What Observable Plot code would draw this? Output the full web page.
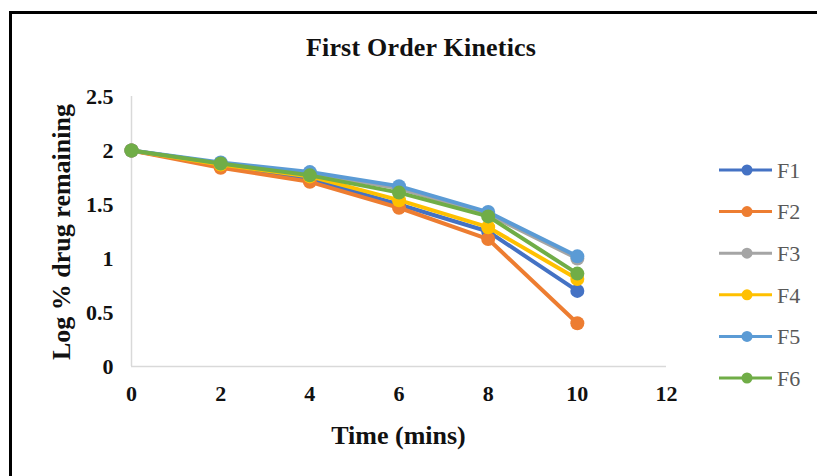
<!DOCTYPE html>
<html>
<head>
<meta charset="utf-8">
<script src="https://cdn.jsdelivr.net/npm/d3@7"></script>
<script src="https://cdn.jsdelivr.net/npm/@observablehq/plot@0.6"></script>
<style>
  html, body { margin: 0; padding: 0; background: #fff; }
  #wrap { position: relative; width: 817px; height: 476px; overflow: hidden; background: #fff;
          font-family: "Liberation Serif", "Times New Roman", serif; color: #111; }
  #frame { position: absolute; left: 9px; top: 11px; width: 900px; height: 600px;
           border-left: 3px solid #000; border-top: 3px solid #000; box-sizing: border-box; }
  #title { position: absolute; left: 131px; width: 580px; top: 33px; text-align: center;
           font-weight: bold; font-size: 26px; letter-spacing: 0.2px; }
  #xlabel { position: absolute; left: 131px; width: 535px; top: 421px; text-align: center;
            font-weight: bold; font-size: 26px; }
  #ylabel { position: absolute; left: 62px; top: 232px; transform: translate(-50%, -50%) rotate(-90deg);
            white-space: nowrap; font-weight: bold; font-size: 26px; }
  #chart { position: absolute; left: 0; top: 0; }
  #legend { position: absolute; left: 715px; top: 0; }
</style>
</head>
<body>
<div id="wrap">
  <div id="frame"></div>
  <div id="chart"></div>
  <div id="title">First Order Kinetics</div>
  <div id="xlabel">Time (mins)</div>
  <div id="ylabel">Log % drug remaining</div>
  <svg id="legend" width="102" height="476"></svg>
</div>
<script>
// Sampling times (minutes)
const times = [0, 2, 4, 6, 8, 10];

// Log % drug remaining for each formulation
const F1 = [2.00, 1.86, 1.74, 1.50, 1.25, 0.70];
const F2 = [2.00, 1.84, 1.71, 1.47, 1.18, 0.40];
const F3 = [2.00, 1.88, 1.79, 1.65, 1.41, 1.00];
const F4 = [2.00, 1.87, 1.76, 1.54, 1.29, 0.81];
const F5 = [2.00, 1.89, 1.80, 1.67, 1.43, 1.02];
const F6 = [2.00, 1.88, 1.77, 1.61, 1.39, 0.86];

const seriesNames = ["F1", "F2", "F3", "F4", "F5", "F6"];
const seriesValues = [F1, F2, F3, F4, F5, F6];
const seriesColors = ["#4472C4", "#ED7D31", "#A5A5A5", "#FFC000", "#5B9BD5", "#70AD47"];

const xTicks = [0, 2, 4, 6, 8, 10, 12];
const yTicks = [0, 0.5, 1, 1.5, 2, 2.5];

// Long-format table for Plot
const rows = seriesNames.flatMap((name, i) =>
  times.map((t, j) => ({series: name, time: t, value: seriesValues[i][j]}))
);

const tickFont = {fontSize: "22px", fontWeight: "bold", fill: "#111"};

const marks = [
  Plot.ruleY([0], {stroke: "#d9d9d9", strokeWidth: 1.5}),
  Plot.ruleX([0], {stroke: "#d9d9d9", strokeWidth: 1.5}),
  Plot.axisX({ticks: xTicks, tickSize: 0, tickPadding: 19, tickFormat: d => String(d),
              label: null, ...tickFont}),
  Plot.axisY({ticks: yTicks, tickSize: 0, tickPadding: 18, tickFormat: d => String(d),
              label: null, ...tickFont})
];

// One line + dot layer per formulation, drawn in series order
seriesNames.forEach((name, i) => {
  const data = rows.filter(r => r.series === name);
  marks.push(Plot.line(data, {x: "time", y: "value", stroke: seriesColors[i], strokeWidth: 4}));
  marks.push(Plot.dot(data, {x: "time", y: "value", fill: seriesColors[i], r: 7}));
});

const chart = Plot.plot({
  width: 817,
  height: 476,
  marginLeft: 131,
  marginRight: 151,
  marginTop: 96,
  marginBottom: 110,
  x: {domain: [0, 12]},
  y: {domain: [0, 2.5]},
  style: {fontFamily: "'Liberation Serif', 'Times New Roman', serif", background: "transparent", overflow: "visible"},
  marks
});
document.getElementById("chart").appendChild(chart);

// Legend: swatch line with a dot, then the series name
const legend = d3.select("#legend");
const rowY = i => 170 + i * 41.6;
seriesNames.forEach((name, i) => {
  const g = legend.append("g").attr("transform", `translate(0,${rowY(i)})`);
  g.append("line").attr("x1", 4).attr("x2", 57).attr("y1", 0).attr("y2", 0)
    .attr("stroke", seriesColors[i]).attr("stroke-width", 3);
  g.append("circle").attr("cx", 32).attr("cy", 0).attr("r", 5.5).attr("fill", seriesColors[i]);
  g.append("text").attr("x", 62).attr("y", 0).attr("dy", "0.35em")
    .attr("font-family", "'Liberation Serif', 'Times New Roman', serif")
    .attr("font-size", 22).attr("fill", "#595959").text(name);
});
</script>
</body>
</html>
